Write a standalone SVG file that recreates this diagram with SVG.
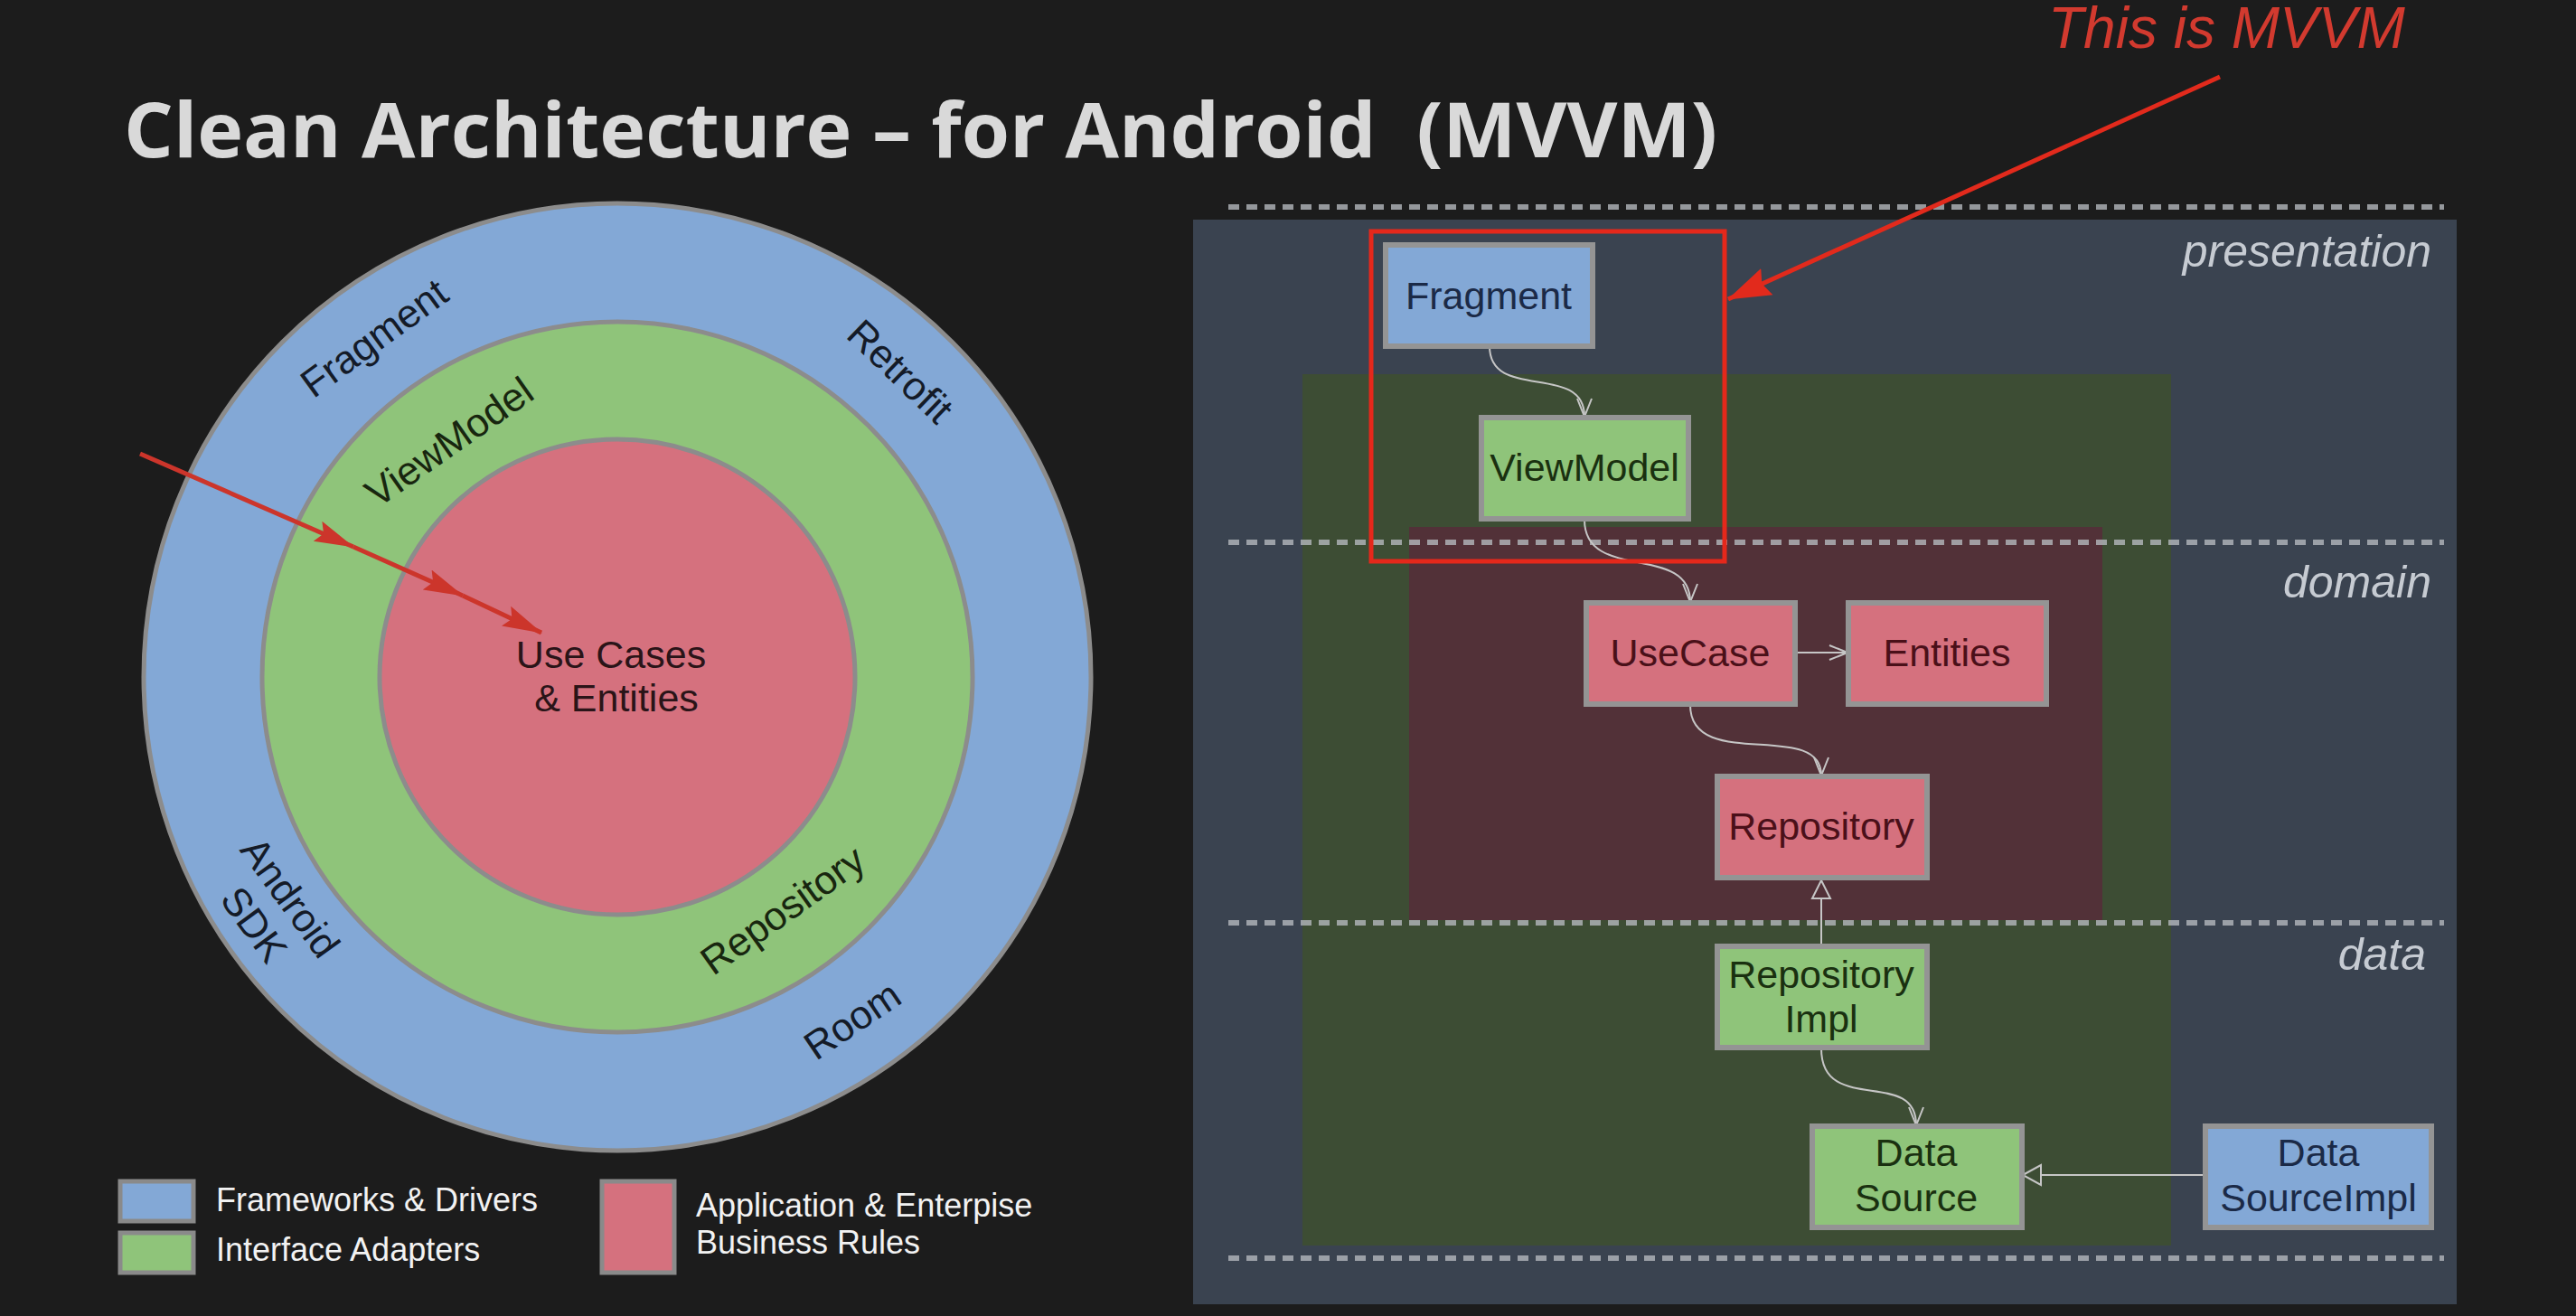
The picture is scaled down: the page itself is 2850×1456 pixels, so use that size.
<svg xmlns="http://www.w3.org/2000/svg" width="2850" height="1456" viewBox="0 0 2850 1456">
<style>
.sans{font-family:"Liberation Sans",Arial,sans-serif}
.ring{font-family:"Liberation Sans",Arial,sans-serif;font-size:44px;text-anchor:middle}
.ringB{fill:#141b28}
.ringG{fill:#18260f}
.node rect{stroke:#949494;stroke-width:6}
.node text{font-family:"Liberation Sans",Arial,sans-serif;font-size:43px;text-anchor:middle}
.blue{fill:#83a8d6}
.green{fill:#8fc47a}
.pink{fill:#d5717e}
.tBlue{fill:#1b2a47}
.tGreen{fill:#1a3010}
.tPink{fill:#4a1019}
.layer{font-family:"Liberation Sans",Arial,sans-serif;font-size:50px;font-style:italic;fill:#c6cbd2;text-anchor:end}
.dash{stroke:#b4b8bd;stroke-width:6;stroke-dasharray:12 8;opacity:0.8}
.conn{fill:none;stroke:#c6c6c6;stroke-width:2}
.legend{font-family:"Liberation Sans",Arial,sans-serif;font-size:36px;fill:#f2f2f2}
</style>
<defs>
<marker id="vee" markerUnits="userSpaceOnUse" markerWidth="22" markerHeight="20" viewBox="0 0 22 20" refX="21" refY="10" orient="auto">
<path d="M1,2 L21,10 L1,18" fill="none" stroke="#c6c6c6" stroke-width="2"/>
</marker>
<marker id="redHead" markerUnits="userSpaceOnUse" markerWidth="44" markerHeight="26" viewBox="0 0 44 26" refX="43" refY="13" orient="auto">
<path d="M0,1 L44,13 L0,25 L7,13 Z" fill="#cc352b"/>
</marker>
<marker id="redHead2" markerUnits="userSpaceOnUse" markerWidth="48" markerHeight="34" viewBox="0 0 48 34" refX="47" refY="17" orient="auto">
<path d="M0,1 L48,17 L0,33 L6,17 Z" fill="#e22a1c"/>
</marker>
</defs>
<rect x="0" y="0" width="2850" height="1456" fill="#1c1c1c"/>

<text id="title" x="137" y="174" xml:space="preserve" font-family="'Open Sans','Noto Sans',sans-serif" font-weight="700" font-size="85" fill="#d9d9d9" textLength="1763" lengthAdjust="spacingAndGlyphs">Clean Architecture – for Android  (MVVM)</text>

<!-- Onion diagram -->
<g id="ring-frameworks">
<circle cx="683" cy="749" r="524" fill="#83a8d6" stroke="#8c8c8c" stroke-width="5"/>
</g>
<g id="ring-adapters">
<circle cx="683" cy="749" r="393" fill="#8fc47a" stroke="#8c8c8c" stroke-width="5"/>
</g>
<g id="ring-core">
<circle cx="683" cy="749" r="263" fill="#d5717e" stroke="#8c8c8c" stroke-width="5"/>
<text class="sans" x="676" y="739" font-size="43" fill="#2a1418" text-anchor="middle">Use Cases</text>
<text class="sans" x="682" y="787" font-size="43" fill="#2a1418" text-anchor="middle">&amp; Entities</text>
</g>
<g id="ring-labels">
<text class="ring ringB" transform="translate(414,374) rotate(-36)" x="0" y="15">Fragment</text>
<text class="ring ringB" transform="translate(996,411) rotate(44)" x="0" y="15">Retrofit</text>
<text class="ring ringG" transform="translate(497,489) rotate(-35)" x="0" y="15">ViewModel</text>
<text class="ring ringG" transform="translate(866,1007) rotate(-35.5)" x="0" y="15">Repository</text>
<text class="ring ringB" transform="translate(943,1129) rotate(-34)" x="0" y="15">Room</text>
<text class="ring ringB" transform="translate(321,993) rotate(54)" x="0" y="15">Android</text>
<text class="ring ringB" transform="translate(281,1023) rotate(54)" x="0" y="15">SDK</text>
</g>
<g id="red-annotation-left">
<path d="M155,502 L391,605" stroke="#cc352b" stroke-width="5" fill="none" marker-end="url(#redHead)"/>
<path d="M391,605 L512,659" stroke="#cc352b" stroke-width="5" fill="none" marker-end="url(#redHead)"/>
<path d="M512,659 L599,700" stroke="#cc352b" stroke-width="5" fill="none" marker-end="url(#redHead)"/>
</g>

<!-- Legend -->
<g id="legend">
<rect x="133" y="1307" width="81" height="44" fill="#83a8d6" stroke="#8a8a8a" stroke-width="5"/>
<rect x="133" y="1364" width="81" height="44" fill="#8fc47a" stroke="#8a8a8a" stroke-width="5"/>
<rect x="666" y="1307" width="80" height="101" fill="#d5717e" stroke="#8a8a8a" stroke-width="5"/>
<text class="legend" x="239" y="1340">Frameworks &amp; Drivers</text>
<text class="legend" x="239" y="1395">Interface Adapters</text>
<text class="legend" x="770" y="1346">Application &amp; Enterpise</text>
<text class="legend" x="770" y="1387">Business Rules</text>
</g>

<!-- Right panel -->
<g id="panel">
<rect x="1320" y="243" width="1398" height="1200" fill="#3a4350"/>
<rect x="1441" y="414" width="961" height="964" fill="#3d4d34"/>
<rect x="1559" y="583" width="767" height="435" fill="#523138"/>
<line class="dash" x1="1359" y1="229" x2="2704" y2="229"/>
<line class="dash" x1="1359" y1="600" x2="2704" y2="600"/>
<line class="dash" x1="1359" y1="1021" x2="2704" y2="1021"/>
<line class="dash" x1="1359" y1="1392" x2="2704" y2="1392"/>
<text class="layer" x="2690" y="295">presentation</text>
<text class="layer" x="2690" y="661">domain</text>
<text class="layer" x="2684" y="1073">data</text>
</g>

<g id="connectors">
<path class="conn" d="M1648,383 C1648,445 1753,400 1753,461" marker-end="url(#vee)"/>
<path class="conn" d="M1753,575 C1753,645 1870,600 1870,666" marker-end="url(#vee)"/>
<path class="conn" d="M1987,722 L2044,722" marker-end="url(#vee)"/>
<path class="conn" d="M1870,780 C1870,855 2015,795 2015,858" marker-end="url(#vee)"/>
<path class="conn" d="M2015,1046 L2015,993"/>
<polygon points="2015,974 2005,994 2025,994" fill="none" stroke="#c6c6c6" stroke-width="2"/>
<path class="conn" d="M2015,1160 C2015,1235 2120,1180 2120,1245" marker-end="url(#vee)"/>
<path class="conn" d="M2439,1300 L2258,1300"/>
<polygon points="2238,1300 2258,1289 2258,1311" fill="none" stroke="#c6c6c6" stroke-width="2"/>
</g>

<g id="node-fragment" class="node">
<rect class="blue" x="1533" y="271" width="229" height="112"/>
<text class="tBlue" x="1647" y="342">Fragment</text>
</g>
<g id="node-viewmodel" class="node">
<rect class="green" x="1639" y="462" width="229" height="112"/>
<text class="tGreen" x="1753" y="532">ViewModel</text>
</g>
<g id="node-usecase" class="node">
<rect class="pink" x="1755" y="667" width="231" height="112"/>
<text class="tPink" x="1870" y="737">UseCase</text>
</g>
<g id="node-entities" class="node">
<rect class="pink" x="2045" y="667" width="219" height="112"/>
<text class="tPink" x="2154" y="737">Entities</text>
</g>
<g id="node-repository" class="node">
<rect class="pink" x="1900" y="859" width="232" height="112"/>
<text class="tPink" x="2015" y="929">Repository</text>
</g>
<g id="node-repositoryimpl" class="node">
<rect class="green" x="1900" y="1047" width="232" height="112"/>
<text class="tGreen" x="2015" y="1093">Repository</text>
<text class="tGreen" x="2015" y="1142">Impl</text>
</g>
<g id="node-datasource" class="node">
<rect class="green" x="2005" y="1246" width="232" height="112"/>
<text class="tGreen" x="2120" y="1290">Data</text>
<text class="tGreen" x="2120" y="1340">Source</text>
</g>
<g id="node-datasourceimpl" class="node">
<rect class="blue" x="2440" y="1246" width="250" height="112"/>
<text class="tBlue" x="2565" y="1290">Data</text>
<text class="tBlue" x="2565" y="1340">SourceImpl</text>
</g>

<g id="mvvm-annotation">
<rect x="1517" y="256" width="391" height="365" fill="none" stroke="#e5281b" stroke-width="5"/>
<path d="M2456,85 L1912,331" stroke="#e22a1c" stroke-width="5" fill="none" marker-end="url(#redHead2)"/>
<text x="2266" y="53" font-family="'Liberation Sans',Arial,sans-serif" font-style="italic" font-size="64" fill="#d23a2f">This is MVVM</text>
</g>
</svg>
